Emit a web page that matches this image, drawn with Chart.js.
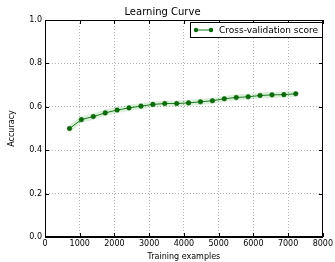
<!DOCTYPE html>
<html>
<head>
<meta charset="utf-8">
<script src="https://cdn.jsdelivr.net/npm/chart.js@4"></script>
<style>
  html, body { margin: 0; padding: 0; background: #fff; }
  #wrap { width: 335px; height: 262px; }
</style>
</head>
<body>
<div id="wrap"><canvas id="lc" width="335" height="262"></canvas></div>
<script>
const trainSizes = [705, 1048, 1391, 1734, 2077, 2420, 2763, 3106, 3449, 3792,
                    4135, 4478, 4821, 5164, 5507, 5850, 6193, 6536, 6879, 7222];
const cvScore = [0.500, 0.541, 0.555, 0.572, 0.585, 0.595, 0.603, 0.611, 0.615, 0.615,
                 0.618, 0.623, 0.628, 0.637, 0.643, 0.646, 0.652, 0.655, 0.656, 0.660];
const cvStd = [0.018, 0.016, 0.015, 0.015, 0.014, 0.014, 0.014, 0.014, 0.014, 0.014,
               0.014, 0.014, 0.014, 0.014, 0.014, 0.014, 0.014, 0.014, 0.014, 0.014];
const xTicks = [0, 1000, 2000, 3000, 4000, 5000, 6000, 7000, 8000];
const yTicks = [0.0, 0.2, 0.4, 0.6, 0.8, 1.0];

const FONT = 'DejaVu Sans';
const pts = (ys) => trainSizes.map((x, i) => ({ x: x, y: ys[i] }));
const upper = cvScore.map((v, i) => v + cvStd[i]);
const lower = cvScore.map((v, i) => v - cvStd[i]);

// inward tick marks, frame and the legend box inside the axes, matplotlib style
const mplExtras = {
  id: 'mplExtras',
  afterDraw(chart) {
    const c = chart.ctx, a = chart.chartArea;
    const xs = chart.scales.x, ys = chart.scales.y;
    c.save();
    c.strokeStyle = '#000';
    c.lineWidth = 1;
    c.strokeRect(Math.round(a.left) + 0.5, Math.round(a.top) + 0.5,
                 Math.round(a.right - a.left) - 1, Math.round(a.bottom - a.top) - 1);
    c.beginPath();
    xTicks.forEach(t => {
      const px = Math.round(xs.getPixelForValue(t)) + 0.5;
      c.moveTo(px, a.bottom); c.lineTo(px, a.bottom - 4);
      c.moveTo(px, a.top); c.lineTo(px, a.top + 4);
    });
    yTicks.forEach(t => {
      const py = Math.round(ys.getPixelForValue(t)) + 0.5;
      c.moveTo(a.left, py); c.lineTo(a.left + 4, py);
      c.moveTo(a.right, py); c.lineTo(a.right - 4, py);
    });
    c.stroke();

    // legend
    const bx = 190.5, by = 22.5, bw = 132, bh = 15;
    c.fillStyle = '#fff';
    c.fillRect(bx, by, bw, bh);
    c.strokeStyle = '#000';
    c.strokeRect(bx, by, bw, bh);
    const ly = by + bh / 2;
    c.strokeStyle = '#1a7a1a';
    c.beginPath(); c.moveTo(196, ly); c.lineTo(211, ly); c.stroke();
    c.fillStyle = '#0b650b';
    [196, 211].forEach(px => { c.beginPath(); c.arc(px, ly, 2.2, 0, Math.PI * 2); c.fill(); });
    c.fillStyle = '#000';
    c.font = '9px "' + FONT + '"';
    c.textBaseline = 'middle';
    c.fillText('Cross-validation score', 219, ly + 0.5);
    c.restore();
  }
};

const gridOpts = { color: '#b4b4b4', tickLength: 0, drawTicks: false };

new Chart(document.getElementById('lc'), {
  type: 'line',
  data: {
    datasets: [
      {
        data: pts(upper), borderWidth: 0, pointRadius: 0,
        backgroundColor: 'rgba(0,150,0,0.14)', fill: '+1'
      },
      {
        data: pts(lower), borderWidth: 0, pointRadius: 0, fill: false
      },
      {
        label: 'Cross-validation score',
        data: pts(cvScore),
        borderColor: '#1a7a1a', borderWidth: 1,
        pointRadius: 2.3, pointBackgroundColor: '#0b650b',
        pointBorderColor: '#0a4f0a', pointBorderWidth: 0.5,
        fill: false
      }
    ]
  },
  options: {
    responsive: false,
    animation: false,
    layout: { padding: { left: 0, right: 10, top: 0, bottom: 0 } },
    plugins: {
      legend: { display: false },
      tooltip: { enabled: false },
      title: {
        display: true, text: 'Learning Curve', color: '#000',
        font: { family: FONT, size: 10, weight: 'normal' },
        padding: { top: 6, bottom: 2 }
      }
    },
    scales: {
      x: {
        type: 'linear', min: 0, max: 8000,
        afterBuildTicks: s => { s.ticks = xTicks.map(v => ({ value: v })); },
        afterFit: s => { s.height = 25; },
        ticks: { color: '#000', font: { family: FONT, size: 8 }, padding: 2, maxRotation: 0,
                 callback: v => String(v) },
        grid: gridOpts,
        border: { color: '#000', width: 1, dash: [1, 2] },
        title: { display: true, text: 'Training examples', color: '#000',
                 font: { family: FONT, size: 8 }, padding: { top: 1, bottom: 0 } }
      },
      y: {
        min: 0, max: 1,
        afterBuildTicks: s => { s.ticks = yTicks.map(v => ({ value: v })); },
        afterFit: s => { s.width = 45; },
        ticks: { color: '#000', font: { family: FONT, size: 8 }, padding: 3,
                 callback: v => v.toFixed(1) },
        grid: gridOpts,
        border: { color: '#000', width: 1, dash: [1, 2] },
        title: { display: true, text: 'Accuracy', color: '#000',
                 font: { family: FONT, size: 8 }, padding: { top: 7, bottom: 0 } }
      }
    }
  },
  plugins: [mplExtras]
});
</script>
</body>
</html>
